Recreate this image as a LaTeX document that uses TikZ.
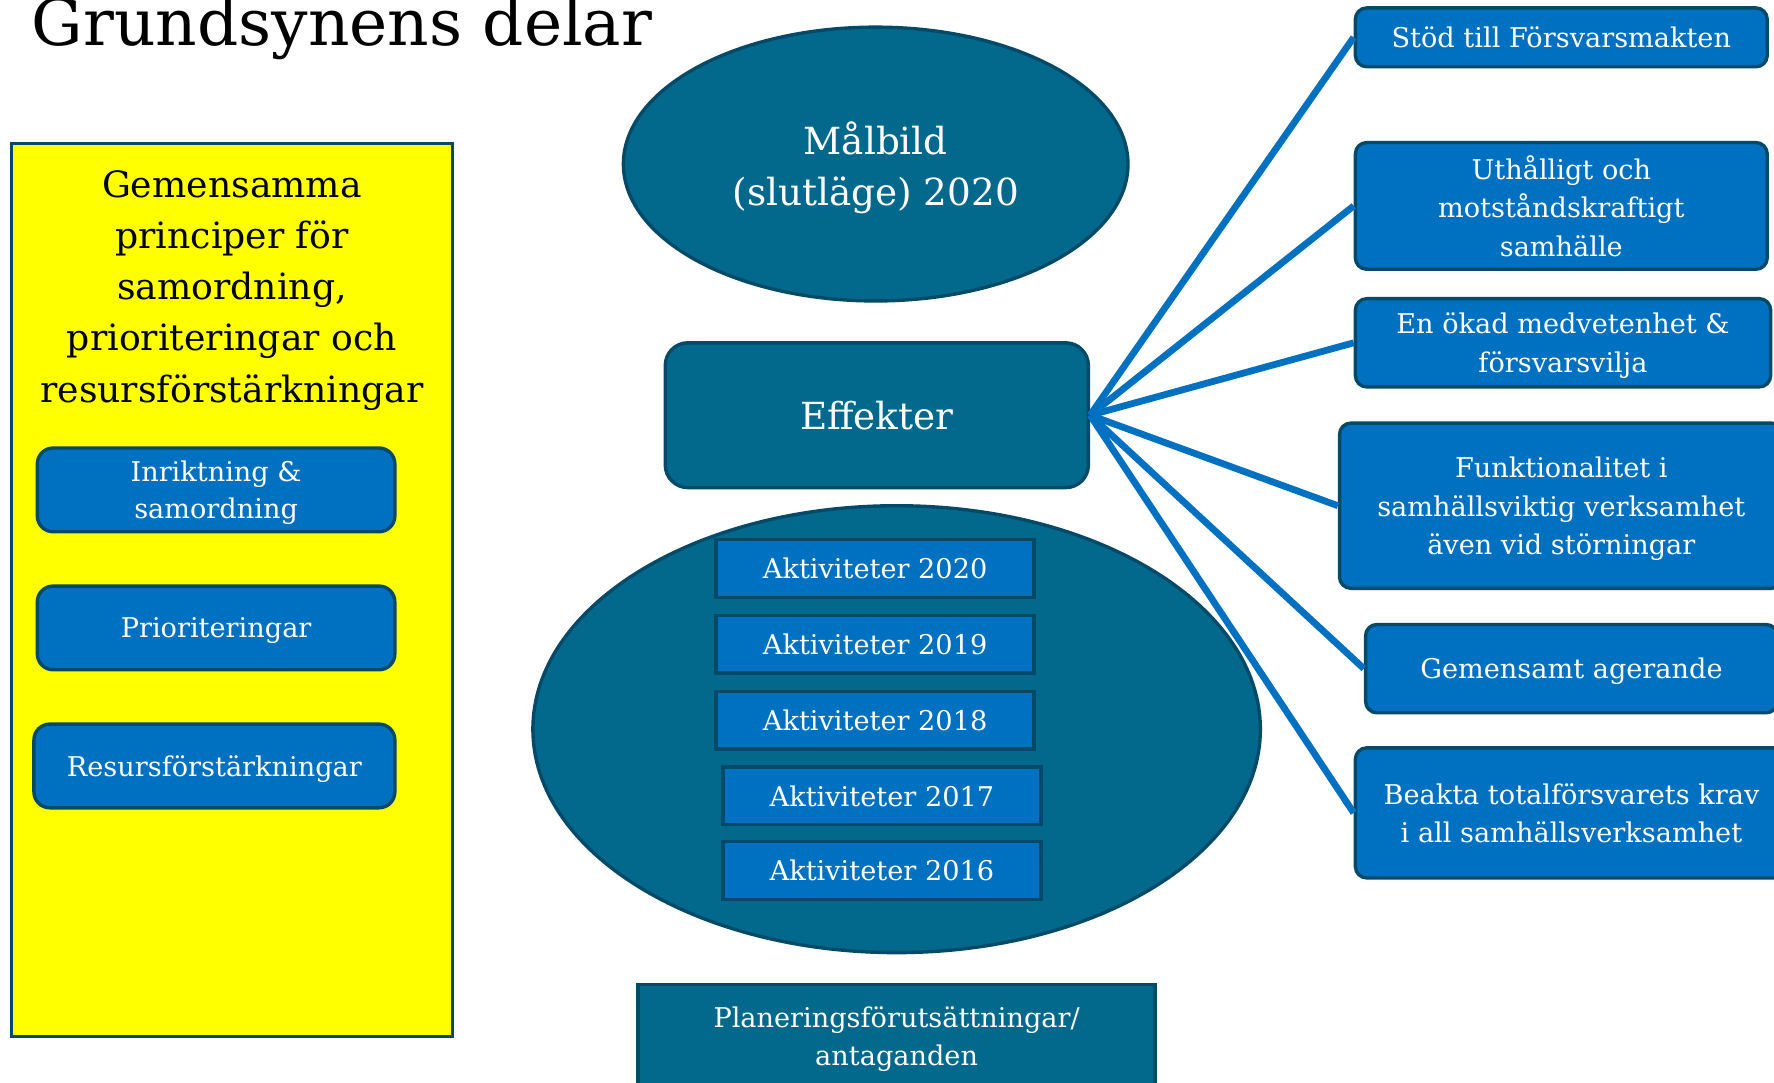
\documentclass[tikz,border=0pt]{standalone}
\usepackage{fontspec}
\setmainfont{DejaVu Serif}
\usetikzlibrary{shapes.geometric}
\definecolor{tealfill}{HTML}{02688C}
\definecolor{darkedge}{HTML}{034A68}
\definecolor{bluefill}{HTML}{0070C0}
\definecolor{yellowfill}{HTML}{FFFF00}
\tikzset{
  tealbox/.style={draw=darkedge, line width=3pt, fill=tealfill, text=white, align=center, inner sep=0pt, text depth=0pt},
  bluebox/.style={draw=darkedge, line width=3pt, fill=bluefill, text=white, align=center, inner sep=0pt, text depth=0pt},
  rbox/.style={bluebox, rounded corners=10pt, font=\fontsize{24}{34}\selectfont},
  lbox/.style={bluebox, rounded corners=14pt, font=\fontsize{24}{33}\selectfont, minimum height=74pt},
  akt/.style={bluebox, minimum width=281pt, minimum height=51pt, font=\fontsize{24}{30}\selectfont},
  conn/.style={draw=bluefill, line width=6pt},
}
\begin{document}
\begin{tikzpicture}[x=1pt,y=-1pt]
\path[use as bounding box, clip] (0,0) rectangle (1568,957);
\fill[white] (0,0) rectangle (1568,957);

% title
\node[anchor=base west, inner sep=0pt, font=\fontsize{57}{60}\selectfont] (title) at (28,40) {Grundsynens delar};

% left yellow panel
\node[draw=darkedge, line width=3pt, fill=yellowfill, minimum width=390pt, minimum height=789pt, inner sep=0pt] (panel) at (205,521.5) {};
\node[align=center, font=\fontsize{32}{45.3}\selectfont, inner sep=0pt, text depth=0pt] (ptitle) at (205,253) {Gemensamma\\principer för\\samordning,\\prioriteringar och\\resursförstärkningar};
\node[lbox, minimum width=316pt] (inr) at (191,433) {Inriktning \&\\samordning};
\node[lbox, minimum width=316pt] (prio) at (191,555) {Prioriteringar};
\node[lbox, minimum width=319pt] (res) at (189.5,677) {Resursförstärkningar};

% centre column
\node[tealbox, ellipse, minimum width=446pt, minimum height=242pt, font=\fontsize{33}{45}\selectfont] (mal) at (774,145) {Målbild\\(slutläge) 2020};
\node[tealbox, rounded corners=20pt, minimum width=374pt, minimum height=128pt, font=\fontsize{33}{40}\selectfont] (eff) at (775,367) {Effekter};
\node[tealbox, ellipse, minimum width=643pt, minimum height=395pt] (akte) at (792.5,644.5) {};
\node[akt] (a20) at (773.5,502.5) {Aktiviteter 2020};
\node[akt] (a19) at (773.5,569.5) {Aktiviteter 2019};
\node[akt] (a18) at (773.5,636.5) {Aktiviteter 2018};
\node[akt] (a17) at (779.5,703.5) {Aktiviteter 2017};
\node[akt] (a16) at (779.5,769.5) {Aktiviteter 2016};
\node[tealbox, minimum width=457pt, minimum height=92pt, font=\fontsize{24}{34}\selectfont] (plan) at (792.5,916) {Planeringsförutsättningar/\\antaganden};

% right column
\node[rbox, minimum width=364pt, minimum height=52pt] (r1) at (1380,33) {Stöd till Försvarsmakten};
\node[rbox, minimum width=364pt, minimum height=112pt] (r2) at (1380,182) {Uthålligt och\\motståndskraftigt\\samhälle};
\node[rbox, minimum width=367pt, minimum height=78pt] (r3) at (1381.5,303) {En ökad medvetenhet \&\\försvarsvilja};
\node[rbox, minimum width=392pt, minimum height=146pt] (r4) at (1380,447) {Funktionalitet i\\samhällsviktig verksamhet\\även vid störningar};
\node[rbox, minimum width=364pt, minimum height=78pt] (r5) at (1389,591) {Gemensamt agerande};
\node[rbox, minimum width=382pt, minimum height=115pt] (r6) at (1389,718.5) {Beakta totalförsvarets krav\\i all samhällsverksamhet};

% connectors
\draw[conn] (eff.east) -- (r1.west);
\draw[conn] (eff.east) -- (r2.west);
\draw[conn] (eff.east) -- (r3.west);
\draw[conn] (eff.east) -- (r4.west);
\draw[conn] (eff.east) -- (r5.west);
\draw[conn] (eff.east) -- (r6.west);
\end{tikzpicture}
\end{document}
